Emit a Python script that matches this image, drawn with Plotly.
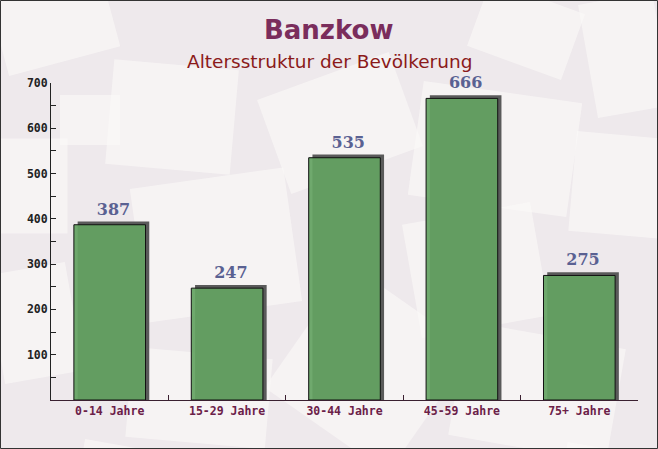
import math
import plotly.graph_objects as go

categories = ["0-14 Jahre", "15-29 Jahre", "30-44 Jahre", "45-59 Jahre", "75+ Jahre"]
values = [387, 247, 535, 666, 275]
title_text = "Banzkow"
subtitle_text = "Altersstruktur der Bevölkerung"

W, H = 658, 449
ML, MR, MT, MB = 51, 20, 83, 49
PW, PH = W - ML - MR, H - MT - MB

def px(x):
    return (x - ML) / PW

def py(y):
    return (H - MB - y) / PH

bar_w = 0.61
shadow_dx = 0.032
shadow_dy = 7

fig = go.Figure()
fig.add_trace(go.Bar(
    x=categories, y=[v + shadow_dy for v in values],
    width=bar_w, offset=-bar_w / 2 + shadow_dx,
    marker=dict(color="#5a5a5a", line=dict(width=0)),
    text=[f"<b>{v}</b>" for v in values], textposition="outside",
    textfont=dict(family="DejaVu Serif", size=16, color="#5a6192"),
    cliponaxis=False, hoverinfo="skip",
))
fig.add_trace(go.Bar(
    x=categories, y=values,
    width=bar_w, offset=-bar_w / 2,
    marker=dict(color="rgba(100,162,98,0.93)", line=dict(color="#111111", width=1)),
    hoverinfo="x+y",
))

# decorative envelope background (pixel centre, size, angle)
envelopes = [
    (55, 25, 115, 75, -15), (172, 117, 125, 105, 5), (340, 123, 140, 100, -20),
    (216, 245, 155, 135, -8), (495, 149, 160, 115, 8), (620, 185, 95, 100, 5),
    (476, 270, 130, 115, -10), (369, 369, 150, 150, 35), (537, 392, 160, 115, 10),
    (30, 186, 75, 95, 0), (142, 505, 135, 110, 10), (526, 30, 100, 70, 20),
    (625, 55, 75, 115, -10), (199, 398, 140, 90, 5), (35, 323, 80, 110, -10),
    (610, 490, 100, 80, 10), (90, 120, 60, 50, 0),
]
shapes = []
for cx, cy, w, h, a in envelopes:
    t = math.radians(a)
    pts = []
    for dx, dy in [(-w / 2, -h / 2), (w / 2, -h / 2), (w / 2, h / 2), (-w / 2, h / 2)]:
        x = cx + dx * math.cos(t) - dy * math.sin(t)
        y = cy + dx * math.sin(t) + dy * math.cos(t)
        pts.append((px(x), py(y)))
    path = "M " + " L ".join(f"{x:.4f},{y:.4f}" for x, y in pts) + " Z"
    shapes.append(dict(type="path", path=path, xref="paper", yref="paper",
                       fillcolor="rgba(252,250,248,0.6)", line=dict(width=0), layer="below"))
shapes.append(dict(type="rect", xref="paper", yref="paper",
                   x0=px(0.5), x1=px(W - 0.5), y0=py(H - 0.5), y1=py(0.5),
                   line=dict(color="#333333", width=1), layer="above"))

fig.update_layout(
    width=W, height=H,
    barmode="overlay",
    showlegend=False,
    paper_bgcolor="#eee9ec",
    plot_bgcolor="rgba(0,0,0,0)",
    margin=dict(l=ML, r=MR, t=MT, b=MB),
    shapes=shapes,
    annotations=[
        dict(text=f"<b>{title_text}</b>", x=px(328), xref="paper", xanchor="center",
             y=py(30), yref="paper", yanchor="middle", showarrow=False,
             font=dict(family="DejaVu Sans", size=26, color="#7a2d5c")),
        dict(text=subtitle_text, x=px(329), xref="paper", xanchor="center",
             y=py(62), yref="paper", yanchor="middle", showarrow=False,
             font=dict(family="DejaVu Sans", size=18.5, color="#8b1a1a")),
    ],
    xaxis=dict(
        type="category",
        showline=True, linecolor="#3a2030", linewidth=1,
        ticks="inside", tickson="boundaries", ticklen=5, tickcolor="#3a2030",
        tickfont=dict(family="DejaVu Sans Mono", size=11.5, color="#6b2048", weight="bold"),
        showgrid=False, range=[-0.5, 4.5],
    ),
    yaxis=dict(
        range=[0, 700],
        tickvals=[100, 200, 300, 400, 500, 600, 700],
        showline=True, linecolor="#222222", linewidth=1,
        ticks="inside", ticklen=5, tickcolor="#222222",
        minor=dict(tickvals=[50, 150, 250, 350, 450, 550, 650], ticks="inside", ticklen=5, tickcolor="#222222"),
        tickfont=dict(family="DejaVu Sans Mono", size=11.5, color="#222222", weight="bold"),
        showgrid=False, zeroline=False,
    ),
)

fig.write_html("out.html", config={"displayModeBar": False},
               post_script="document.body.style.margin='0';")
